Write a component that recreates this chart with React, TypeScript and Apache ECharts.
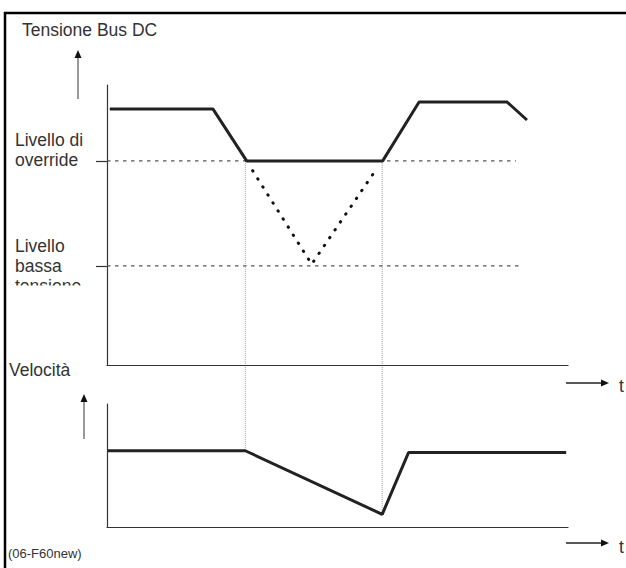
import React, { useEffect, useRef } from "react";
import * as echarts from "echarts";

// Time axis: 0..100 (abstract time units); level axis: 0..100 (abstract units)
const BUS_T = [0.6, 23, 30.3, 59.8, 67.7, 86.8, 91.1];
const BUS_V = [91.4, 91.4, 72.9, 72.9, 93.9, 93.9, 87.5];
const OVERRIDE_LEVEL = 72.9;
const LOW_LEVEL = 35.4;
const OVERRIDE_LINE_END = 88.7;
const LOW_LINE_END = 89.8;
const DIP_T = [31.6, 44.4, 58.2];
const DIP_V = [69.4, 36, 69.4];
const SPEED_T = [0.2, 30, 59.7, 65.4, 99.6];
const SPEED_V = [62, 62, 10.3, 60.5, 60.5];
const T_DROP = 30;
const T_RECOVER = 59.7;

const FONT = "'Liberation Sans', Arial, Helvetica, sans-serif";
const INK = "#222";
const TEXT_INK = "#333";

function pairs(xs: number[], ys: number[]) {
  return xs.map((x, i) => [x, ys[i]]);
}

export default function App() {
  const ref = useRef<HTMLDivElement>(null);
  useEffect(() => {
    if (!ref.current) return;
    const chart = echarts.init(ref.current, undefined, { renderer: "svg" });
    const axisLine = { show: true, lineStyle: { color: "#333", width: 1.2 } };
    const baseX = {
      type: "value" as const,
      min: 0,
      max: 100,
      axisLine,
      axisTick: { show: false },
      axisLabel: { show: false },
      splitLine: { show: false },
    };
    const baseY = {
      type: "value" as const,
      min: 0,
      max: 100,
      axisLine,
      axisLabel: { show: false },
      splitLine: { show: false },
    };
    chart.setOption({
      animation: false,
      grid: [
        { left: 107, right: 58, top: 85, bottom: 203 },
        { left: 107, right: 58, top: 404, bottom: 41 },
      ],
      xAxis: [
        { ...baseX, gridIndex: 0 },
        { ...baseX, gridIndex: 1 },
      ],
      yAxis: [
        {
          ...baseY,
          gridIndex: 0,
          axisTick: {
            show: true,
            inside: false,
            length: 11,
            customValues: [LOW_LEVEL, OVERRIDE_LEVEL],
            lineStyle: { color: "#333", width: 1.2 },
          },
        },
        { ...baseY, gridIndex: 1, axisTick: { show: false } },
      ],
      series: [
        {
          type: "line",
          xAxisIndex: 0,
          yAxisIndex: 0,
          data: [
            [0, OVERRIDE_LEVEL],
            [OVERRIDE_LINE_END, OVERRIDE_LEVEL],
          ],
          symbol: "none",
          lineStyle: { color: "#555", width: 1.4, type: [3.5, 4.5] },
          z: 1,
        },
        {
          type: "line",
          xAxisIndex: 0,
          yAxisIndex: 0,
          data: [
            [0, LOW_LEVEL],
            [LOW_LINE_END, LOW_LEVEL],
          ],
          symbol: "none",
          lineStyle: { color: "#555", width: 1.4, type: [3.5, 4.5] },
          z: 1,
        },
        {
          type: "line",
          xAxisIndex: 0,
          yAxisIndex: 0,
          data: pairs(DIP_T, DIP_V),
          symbol: "none",
          lineStyle: { color: "#111", width: 3, type: [0.5, 9], cap: "round" },
          z: 2,
        },
        {
          type: "line",
          xAxisIndex: 0,
          yAxisIndex: 0,
          data: pairs(BUS_T, BUS_V),
          symbol: "none",
          lineStyle: { color: INK, width: 3 },
          z: 3,
        },
        {
          type: "line",
          xAxisIndex: 1,
          yAxisIndex: 1,
          data: pairs(SPEED_T, SPEED_V),
          symbol: "none",
          lineStyle: { color: INK, width: 3 },
          z: 3,
        },
      ],
    });

    const f0 = { xAxisIndex: 0, yAxisIndex: 0 };
    const f1 = { xAxisIndex: 1, yAxisIndex: 1 };
    const dropTop = chart.convertToPixel(f0, [T_DROP, OVERRIDE_LEVEL]) as number[];
    const dropBot = chart.convertToPixel(f1, [T_DROP, SPEED_V[1]]) as number[];
    const recTop = chart.convertToPixel(f0, [T_RECOVER, OVERRIDE_LEVEL]) as number[];
    const recBot = chart.convertToPixel(f1, [T_RECOVER, SPEED_V[2]]) as number[];

    const connector = (a: number[], b: number[]) => ({
      type: "line",
      z: 0,
      shape: { x1: a[0], y1: a[1], x2: b[0], y2: b[1] },
      style: { stroke: "#9a9a9a", lineWidth: 1, lineDash: [1, 1] },
    });

    const text = (x: number, y: number, t: string, size = 17.5, extra: any = {}) => ({
      type: "text",
      x,
      y,
      z: 5,
      style: {
        text: t,
        fill: TEXT_INK,
        font: `${size}px ${FONT}`,
        textVerticalAlign: "middle",
        verticalAlign: "middle",
        lineHeight: 20,
        ...extra,
      },
    });

    const vArrow = (x: number, yBottom: number, yTip: number) => [
      {
        type: "line",
        z: 5,
        shape: { x1: x, y1: yBottom, x2: x, y2: yTip + 6 },
        style: { stroke: "#777", lineWidth: 1.5 },
      },
      {
        type: "polygon",
        z: 5,
        shape: { points: [[x, yTip], [x - 3.5, yTip + 8], [x + 3.5, yTip + 8]] },
        style: { fill: "#111" },
      },
    ];
    const hArrow = (xStart: number, xTip: number, y: number) => [
      {
        type: "line",
        z: 5,
        shape: { x1: xStart, y1: y, x2: xTip - 6, y2: y },
        style: { stroke: "#222", lineWidth: 1.3 },
      },
      {
        type: "polygon",
        z: 5,
        shape: { points: [[xTip, y], [xTip - 8, y - 3.5], [xTip - 8, y + 3.5]] },
        style: { fill: "#111" },
      },
    ];

    chart.setOption({
      graphic: [
        // frame
        {
          type: "line",
          z: 6,
          shape: { x1: 4, y1: 13, x2: 626, y2: 13 },
          style: { stroke: "#000", lineWidth: 2.5 },
        },
        {
          type: "line",
          z: 6,
          shape: { x1: 5, y1: 12, x2: 5, y2: 568 },
          style: { stroke: "#000", lineWidth: 2.5 },
        },
        connector(dropTop, dropBot),
        connector(recTop, recBot),
        text(22, 30, "Tensione Bus DC"),
        text(15, 150, "Livello di\noverride"),
        text(15, 266, "Livello\nbassa\ntensione"),
        {
          type: "rect",
          z: 7,
          shape: { x: 9, y: 285.5, width: 92, height: 14 },
          style: { fill: "#fff" },
        },
        text(9, 370, "Velocità"),
        text(8, 553, "(06-F60new)", 13),
        text(619, 386, "t"),
        text(619, 547, "t"),
        ...vArrow(78, 99, 50),
        ...vArrow(84, 439, 394),
        ...hArrow(566, 609, 383),
        ...hArrow(566, 609, 543),
      ],
    });

    return () => chart.dispose();
  }, []);
  return (
    <div
      ref={ref}
      style={{ position: "fixed", left: 0, top: 0, width: 626, height: 568, background: "#fff" }}
    />
  );
}
